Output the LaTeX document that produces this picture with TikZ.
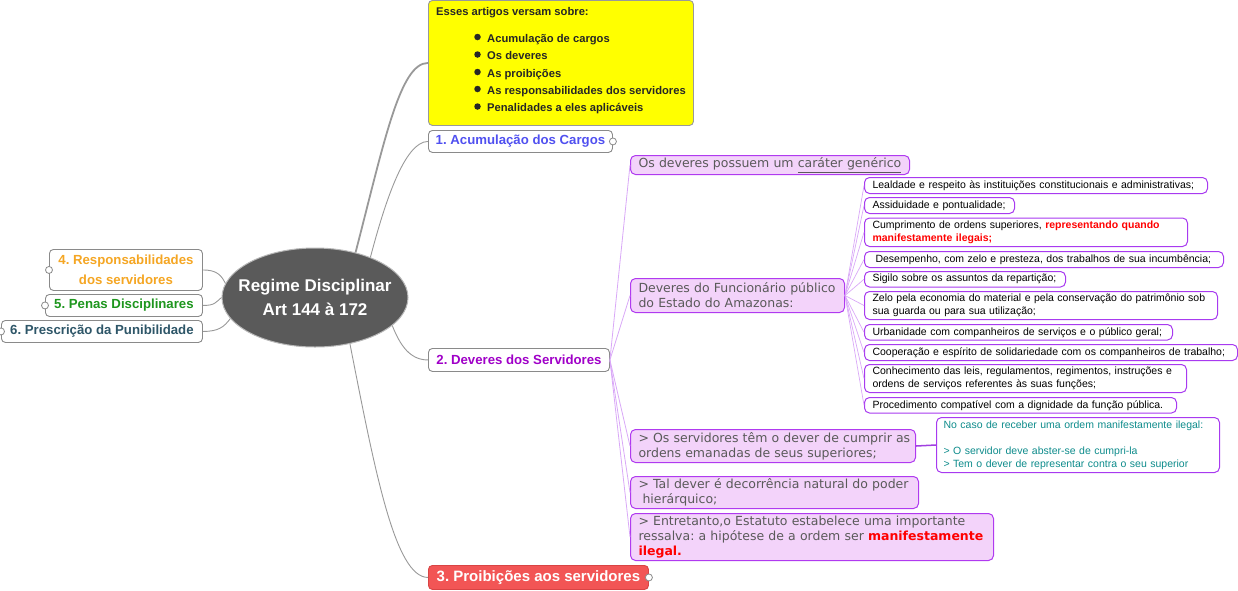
\documentclass[tikz,border=0pt]{standalone}
\usepackage{fontspec}
\setmainfont{Liberation Sans}
\newfontfamily\dvs{DejaVu Sans}
\usetikzlibrary{shapes.geometric}
\definecolor{brgray}{HTML}{8A8A8A}
\definecolor{conngray}{HTML}{999999}
\definecolor{cfill}{HTML}{5A5A5A}
\definecolor{cborder}{HTML}{B8B8B8}
\definecolor{yfill}{HTML}{FFFF00}
\definecolor{ytext}{HTML}{262626}
\definecolor{pfill}{HTML}{F3D3FA}
\definecolor{pborder}{HTML}{B03AF0}
\definecolor{ptext}{HTML}{5A5A5A}
\definecolor{lborder}{HTML}{A83AF0}
\definecolor{pline}{HTML}{D9A8F7}
\definecolor{tealtxt}{HTML}{0E8C8C}
\definecolor{cA}{HTML}{5050F0}
\definecolor{cB}{HTML}{A000C8}
\definecolor{cC}{HTML}{F25555}
\definecolor{cCb}{HTML}{D94444}
\definecolor{cD}{HTML}{F5A623}
\definecolor{cE}{HTML}{1E961E}
\definecolor{cF}{HTML}{2E5668}
\definecolor{tline}{HTML}{A040E0}
\newcommand\leaffont{\fontsize{10.5}{13}\selectfont}
\newcommand\pfont{\dvs\fontsize{12.5}{15}\selectfont}
\newcommand\brfont{\bfseries\fontsize{13.2}{20}\selectfont}
\newcommand\yfont{\bfseries\fontsize{11.2}{13}\selectfont}
\newcommand\lnx[1]{\mbox{#1}}
\newcommand\rb[1]{{\color{red}\bfseries #1}}
\frenchspacing
\begin{document}
\frenchspacing
\begin{tikzpicture}[x=1pt,y=-1pt,
  conn/.style={draw=conngray, line width=0.9pt},
  branch/.style={draw=brgray, line width=0.9pt, rounded corners=4pt, fill=white,
    inner sep=0pt, font=\brfont, anchor=north west, align=center},
  dotc/.style={circle, draw=brgray, fill=white, line width=0.8pt, minimum size=7pt, inner sep=0pt},
  pbox/.style={draw=pborder, fill=pfill, line width=1pt, rounded corners=5pt, text=ptext,
    font=\pfont, align=left, inner xsep=8pt, inner ysep=0pt, anchor=north west},
  leaf/.style={draw=lborder, fill=white, line width=1pt, rounded corners=5pt, text=black,
    font=\leaffont, align=left, inner xsep=8pt, inner ysep=0pt, anchor=north west},
  pconn/.style={draw=pline, line width=0.8pt},
  bul/.style={circle, fill=ytext, minimum size=6.5pt, inner sep=0pt},
  yitem/.style={font=\yfont, text=ytext, anchor=base west, inner sep=0pt}
]
\useasboundingbox (0,0) rectangle (1238,590);

% central
\node[ellipse, minimum width=186pt, minimum height=99pt, inner sep=0pt, fill=cfill,
  draw=cborder, line width=1pt] (c) at (315,297.5) {};
\node[text=white, align=center, inner sep=0pt,
  font=\bfseries\fontsize{17}{24}\selectfont] (ct) at (c.center) {Regime Disciplinar\\Art 144 à 172};

% yellow box
\node[draw=conngray, fill=yfill, line width=0.9pt, rounded corners=4pt, anchor=north west,
  minimum width=265pt, minimum height=125pt, inner sep=0pt] (yb) at (428,0) {};
\node[yitem] (yh) at (436,15) {Esses artigos versam sobre:};
\node[bul] (b1) at (477.5,37) {};
\node[bul] (b2) at (477.5,54.5) {};
\node[bul] (b3) at (477.5,72) {};
\node[bul] (b4) at (477.5,89) {};
\node[bul] (b5) at (477.5,106.5) {};
\node[yitem] (y1) at (487,42) {Acumulação de cargos};
\node[yitem] (y2) at (487,59.5) {Os deveres};
\node[yitem] (y3) at (487,77) {As proibições};
\node[yitem] (y4) at (487,94) {As responsabilidades dos servidores};
\node[yitem] (y5) at (487,111.5) {Penalidades a eles aplicáveis};

% branches
\node[branch, minimum width=184pt, minimum height=22pt, text=cA] (n1) at (428,130) {1. Acumulação dos Cargos};
\node[branch, minimum width=181pt, minimum height=23pt, text=cB] (n2) at (428,348) {2. Deveres dos Servidores};
\node[branch, minimum width=220pt, minimum height=24pt, fill=cC, draw=cCb, text=white,
  font=\bfseries\fontsize{15}{20}\selectfont] (n3) at (428,565) {3. Proibições aos servidores};
\node[branch, minimum width=153pt, minimum height=41pt, text=cD] (n4) at (49,249) {4. Responsabilidades\\dos servidores};
\node[branch, minimum width=157pt, minimum height=22pt, text=cE] (n5) at (45,294) {5. Penas Disciplinares};
\node[branch, minimum width=201pt, minimum height=22pt, text=cF] (n6) at (1,320) {6. Prescrição da Punibilidade};

% center connectors
\draw[conngray, line width=1.8pt] (c.48) .. controls +(29,-112) and +(-28,0) .. (yb.west);
\draw[conn] (c.36) .. controls +(15,-57) and +(-23,0) .. (n1.west);
\draw[conn] (c.-20) .. controls +(8,20) and +(-18,0) .. (n2.west);
\draw[conn] (c.-53) .. controls +(25,127) and +(-33,0) .. (n3.west);
\draw[conn] (n4.east) .. controls +(14,0) and +(-4,-8) .. (c.171);
\draw[conn] (n5.east) .. controls +(12,0) and +(-6,5) .. (c.180);
\draw[conn] (n6.east) .. controls +(16,0) and +(-6,8) .. (c.194);

% collapse dots
\node[dotc] (d1) at (n1.east) {};
\node[dotc] (d3) at (n3.east) {};
\node[dotc] (d4) at (n4.west) {};
\node[dotc] (d5) at (n5.west) {};
\node[dotc] (d6) at (n6.west) {};

% purple level
\node[pbox, text width=263pt, minimum height=19pt] (p0) at (630,155)
  {\lnx{Os deveres possuem um \underline{caráter genérico}}};
\node[pbox, text width=198pt, minimum height=34pt] (p1) at (630,278)
  {\lnx{Deveres do Funcionário público}\\\lnx{do Estado do Amazonas:}};
\node[pbox, text width=269pt, minimum height=33pt] (pa) at (630,429)
  {\lnx{> Os servidores têm o dever de cumprir as}\\\lnx{ordens emanadas de seus superiores;}};
\node[pbox, text width=272pt, minimum height=32pt] (pb) at (630,476)
  {\lnx{> Tal dever é decorrência natural do poder}\\\lnx{\hspace{4pt}hierárquico;}};
\node[pbox, text width=347pt, minimum height=47pt] (pc) at (630,513)
  {\lnx{> Entretanto,o Estatuto estabelece uma importante}\\\lnx{ressalva: a hipótese de a ordem ser \rb{manifestamente}}\\\lnx{\rb{ilegal.}}};
\node[leaf, text=tealtxt, inner xsep=7pt, text width=269pt, minimum height=55pt] (tb) at (936,417)
  {\lnx{No caso de receber uma ordem manifestamente ilegal:}\\[13pt]\lnx{> O servidor deve abster-se de cumpri-la}\\\lnx{> Tem o dever de representar contra o seu superior}};

\foreach \t in {p0,p1,pa,pb,pc} \draw[pconn] (n2.east) -- (\t.west);
\draw[tline, line width=1.5pt] (pa.east) -- (tb.west);

% leaves
\node[leaf, text width=327pt, minimum height=16pt] (l1) at (864,177)
  {\lnx{Lealdade e respeito às instituições constitucionais e administrativas;}};
\node[leaf, text width=134pt, minimum height=16pt] (l2) at (864,197)
  {\lnx{Assiduidade e pontualidade;}};
\node[leaf, text width=307pt, minimum height=28.5pt] (l3) at (864,217.5)
  {\lnx{Cumprimento de ordens superiores, \rb{representando quando}}\\\lnx{\rb{manifestamente ilegais;}}};
\node[leaf, text width=343pt, minimum height=16pt] (l4) at (864,251)
  {\lnx{\hspace{3pt}Desempenho, com zelo e presteza, dos trabalhos de sua incumbência;}};
\node[leaf, text width=185pt, minimum height=15.5pt] (l5) at (864,271)
  {\lnx{Sigilo sobre os assuntos da repartição;}};
\node[leaf, text width=337pt, minimum height=28pt] (l6) at (864,291)
  {\lnx{Zelo pela economia do material e pela conservação do patrimônio sob}\\\lnx{sua guarda ou para sua utilização;}};
\node[leaf, text width=292pt, minimum height=15.5pt] (l7) at (864,324)
  {\lnx{Urbanidade com companheiros de serviços e o público geral;}};
\node[leaf, text width=357pt, minimum height=16pt] (l8) at (864,344)
  {\lnx{Cooperação e espírito de solidariedade com os companheiros de trabalho;}};
\node[leaf, text width=306pt, minimum height=28pt] (l9) at (864,364)
  {\lnx{Conhecimento das leis, regulamentos, regimentos, instruções e}\\\lnx{ordens de serviços referentes às suas funções;}};
\node[leaf, text width=296pt, minimum height=15.5pt] (l10) at (864,397)
  {\lnx{Procedimento compatível com a dignidade da função pública.}};

\foreach \t in {l1,l2,l3,l4,l5,l6,l7,l8,l9,l10} \draw[pconn, line width=0.7pt] (p1.east) -- (\t.west);
\end{tikzpicture}
\end{document}
